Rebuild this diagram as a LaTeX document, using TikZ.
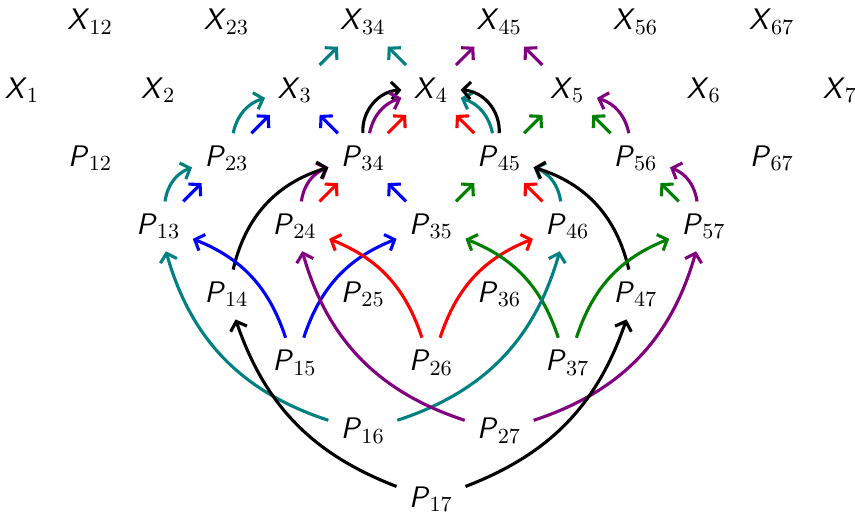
\documentclass[tikz,border=0pt]{standalone}
\usetikzlibrary{arrows.meta}
\definecolor{cteal}{RGB}{0,128,128}
\definecolor{cpurple}{RGB}{128,0,128}
\definecolor{cgreen}{RGB}{0,128,0}
\newcommand{\nlab}[2]{\textsf{\textit{#1}}$_{#2}$}
\begin{document}
\begin{tikzpicture}[
  lbl/.style={inner sep=5pt, font=\fontsize{12.4}{15}\selectfont},
  ar/.style={-{Straight Barb[length=3.3pt,width=7.2pt]}, line width=1.3pt},
  b1l/.style={bend left=30}, b1r/.style={bend right=30},
  bkl/.style={bend left=45}, bkr/.style={bend right=45},
  b2l/.style={bend left=25}, b2r/.style={bend right=25},
  b2kl/.style={bend left=30}, b2kr/.style={bend right=30},
  b3l/.style={bend left=28}, b3r/.style={bend right=28},
  b3kl/.style={bend left=25}, b3kr/.style={bend right=25}
]
\useasboundingbox (-0.3227,-6.21) rectangle (12.2195,1.3202);
% X row
\foreach \i in {1,...,7} {
  \pgfmathtruncatemacro{\xx}{2*(\i-1)}
  \node[lbl] (X\i) at (\xx,0) {\nlab{X}{\i}};
}
\foreach \i/\j in {1/2,2/3,3/4,4/5,5/6,6/7} {
  \node[lbl] (X\i\j) at (2*\i-1,1) {\nlab{X}{\i\j}};
}
% P nodes
\foreach \i in {1,...,6} {
  \foreach \j in {\i,...,7} {
    \ifnum\j>\i
      \pgfmathtruncatemacro{\px}{\i+\j-2}
      \pgfmathtruncatemacro{\py}{\i-\j}
      \node[lbl] (P\i\j) at (\px,\py) {\nlab{P}{\i\j}};
    \fi
  }
}
% top arrows
\draw[ar, cteal] (X3) -- (X34);
\draw[ar, cteal] (X4) -- (X34);
\draw[ar, cpurple] (X4) -- (X45);
\draw[ar, cpurple] (X5) -- (X45);
% P row -> X row
\draw[ar, cteal] (P23) to[b1l] (X3);
\draw[ar, blue] (P23) -- (X3);
\draw[ar, blue] (P34) -- (X3);
\draw[ar, black] (P34) to[bkl] (X4);
\draw[ar, cpurple] (P34) to[b1l] (X4);
\draw[ar, red] (P34) -- (X4);
\draw[ar, red] (P45) -- (X4);
\draw[ar, cteal] (P45) to[b1r] (X4);
\draw[ar, black] (P45) to[bkr] (X4);
\draw[ar, cgreen] (P45) -- (X5);
\draw[ar, cgreen] (P56) -- (X5);
\draw[ar, cpurple] (P56) to[b1r] (X5);
% second row -> P row
\draw[ar, cteal] (P13) to[b1l] (P23);
\draw[ar, blue] (P13) -- (P23);
\draw[ar, cpurple] (P24) to[b1l] (P34);
\draw[ar, red] (P24) -- (P34);
\draw[ar, blue] (P35) -- (P34);
\draw[ar, cgreen] (P35) -- (P45);
\draw[ar, red] (P46) -- (P45);
\draw[ar, cteal] (P46) to[b1r] (P45);
\draw[ar, cgreen] (P57) -- (P56);
\draw[ar, cpurple] (P57) to[b1r] (P56);
% long arcs
\draw[ar, black] (P14) to[b2kl] (P34);
\draw[ar, black] (P47) to[b2kr] (P45);
\draw[ar, blue] (P15) to[b2r] (P13);
\draw[ar, blue] (P15) to[b2l] (P35);
\draw[ar, red] (P26) to[b2r] (P24);
\draw[ar, red] (P26) to[b2l] (P46);
\draw[ar, cgreen] (P37) to[b2r] (P35);
\draw[ar, cgreen] (P37) to[b2l] (P57);
\draw[ar, cteal] (P16) to[b3l] (P13);
\draw[ar, cteal] (P16) to[b3r] (P46);
\draw[ar, cpurple] (P27) to[b3l] (P24);
\draw[ar, cpurple] (P27) to[b3r] (P57);
\draw[ar, black] (P17) to[b3kl] (P14);
\draw[ar, black] (P17) to[b3kr] (P47);
\end{tikzpicture}
\end{document}
